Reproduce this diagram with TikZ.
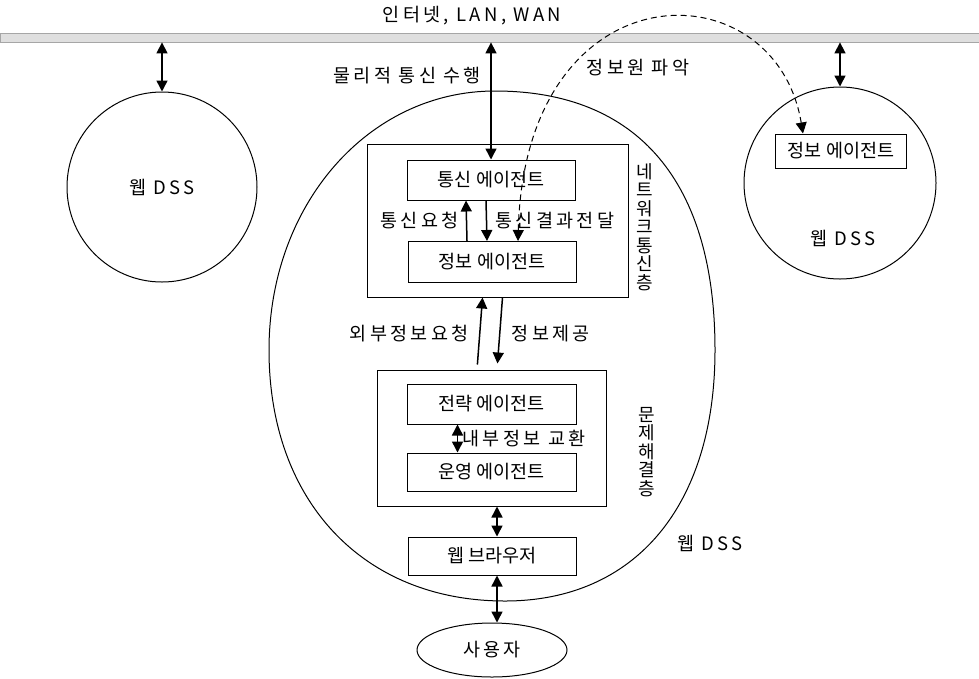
\documentclass[tikz,border=0pt]{standalone}
\usepackage{fontspec}
\setmainfont{Noto Sans CJK KR}
\newfontfamily\krwide[LetterSpace=18]{Noto Sans CJK KR}
\usetikzlibrary{arrows.meta, shapes.geometric, positioning}

\begin{document}
\begin{tikzpicture}[x=1pt, y=-1pt, font=\fontsize{18.5pt}{21pt}\selectfont,
                agent/.style={draw, line width=1pt, minimum width=168pt, minimum height=40pt, inner sep=0pt},
                layer/.style={draw, line width=1pt, inner sep=0pt},
                dss/.style={draw, circle, line width=1pt, minimum size=190pt, inner sep=0pt},
                link/.style={line width=1.5pt, -{Triangle[length=11pt, width=11pt]}},
                both/.style={line width=1.5pt, {Triangle[length=11pt, width=11pt]}-{Triangle[length=11pt, width=11pt]}},
                wide/.style={font=\fontsize{18.5pt}{21pt}\selectfont\krwide},
                vlabel/.style={align=center, font=\fontsize{18pt}{18.5pt}\selectfont, inner sep=0pt}]
                \useasboundingbox (0,0) rectangle (979,678);
                % network bus
                \node[wide] (title) at (472,16) {인터넷, LAN, WAN};
                \node[draw=gray!70, fill=gray!25, line width=0.8pt, minimum width=979pt, minimum height=9pt, inner sep=0pt] (net) at (489.5,37.5) {};
                % outer web DSS systems
                \node[dss, wide] (dssL) at (162,187) {웹 DSS};
                \node[dss, minimum size=192pt] (dssR) at (840,183) {};
                \node[draw, line width=1pt, minimum width=131pt, minimum height=34pt, inner sep=0pt] (infoR) at (841,151) {정보 에이전트};
                \node[wide] (nameR) at (843,238) {웹 DSS};
                % main web DSS
                \coordinate (sysT) at (495,91);
                \coordinate (sysR) at (715,350);
                \coordinate (sysB) at (505,601);
                \coordinate (sysL) at (269,350);
                \draw[line width=1pt] (sysT) .. controls (638,91) and (715,182) .. (sysR)
                    .. controls (715,506) and (635,601) .. (sysB)
                    .. controls (363,601) and (269,501) .. (sysL)
                    .. controls (269,205) and (368,91) .. (sysT) -- cycle;
                \node[wide] (nameM) at (710,543) {웹 DSS};
                \node[layer, minimum width=261pt, minimum height=153pt] (netlayer) at (497.5,220.5) {};
                \node[layer, minimum width=229pt, minimum height=136pt] (problayer) at (492,438) {};
                \node[vlabel] (netname) at (645,227) {네\\트\\워\\크\\통\\신\\층};
                \node[vlabel] (probname) at (647,452) {문\\제\\해\\결\\층};
                \node[agent] (comm) at (491,180) {통신 에이전트};
                \node[agent, minimum height=41pt] (info) at (492,262) {정보 에이전트};
                \node[agent, minimum width=169pt] (strat) at (491.5,404) {전략 에이전트};
                \node[agent, minimum width=169pt, minimum height=38pt] (oper) at (491.5,472) {운영 에이전트};
                \node[agent, minimum height=38pt] (browser) at (492,556) {웹 브라우저};
                \node[draw, ellipse, line width=1pt, minimum width=150pt, minimum height=54pt, inner sep=0pt, wide] (user) at (492,650) {사용자};
                % connectors
                \draw[both] (dssL.north |- net.south) -- (dssL.north);
                \draw[both] (dssR.north |- net.south) -- (dssR.north);
                \draw[both] (comm.north |- net.south) -- node[pos=.28, left=6pt, wide] {물리적 통신 수행} (comm.north);
                \draw[link] ([xshift=-25pt]info.north) -- node[left=4pt, wide] {통신요청} ([xshift=-25pt]comm.south);
                \draw[link] ([xshift=-5pt]comm.south) -- node[right=5pt, wide] {통신결과전달} ([xshift=-5pt]info.north);
                \draw[both, line width=1pt, dashed, dash pattern=on 6pt off 4pt] ([xshift=26pt]info.north) .. controls (525,-35) and (775,-35) .. ([xshift=-38pt]infoR.north);
                \node[wide] (found) at (638,68) {정보원 파악};
                \draw[link, shorten <=5pt] ([xshift=-15pt]problayer.north) -- node[left=7pt, wide] {외부정보요청} ([xshift=-15pt]netlayer.south);
                \draw[link, shorten >=6pt] ([xshift=5pt]netlayer.south) -- node[right=8pt, wide] {정보제공} ([xshift=5pt]problayer.north);
                \draw[both] ([xshift=-34pt]strat.south) -- node[right=1pt, wide] {내부정보 교환} ([xshift=-34pt]oper.north);
                \draw[both] ([xshift=5pt]problayer.south) -- ([xshift=5pt]browser.north);
                \draw[both] ([xshift=5pt]browser.south) -- ([xshift=5pt]user.north);
\end{tikzpicture}
\end{document}
